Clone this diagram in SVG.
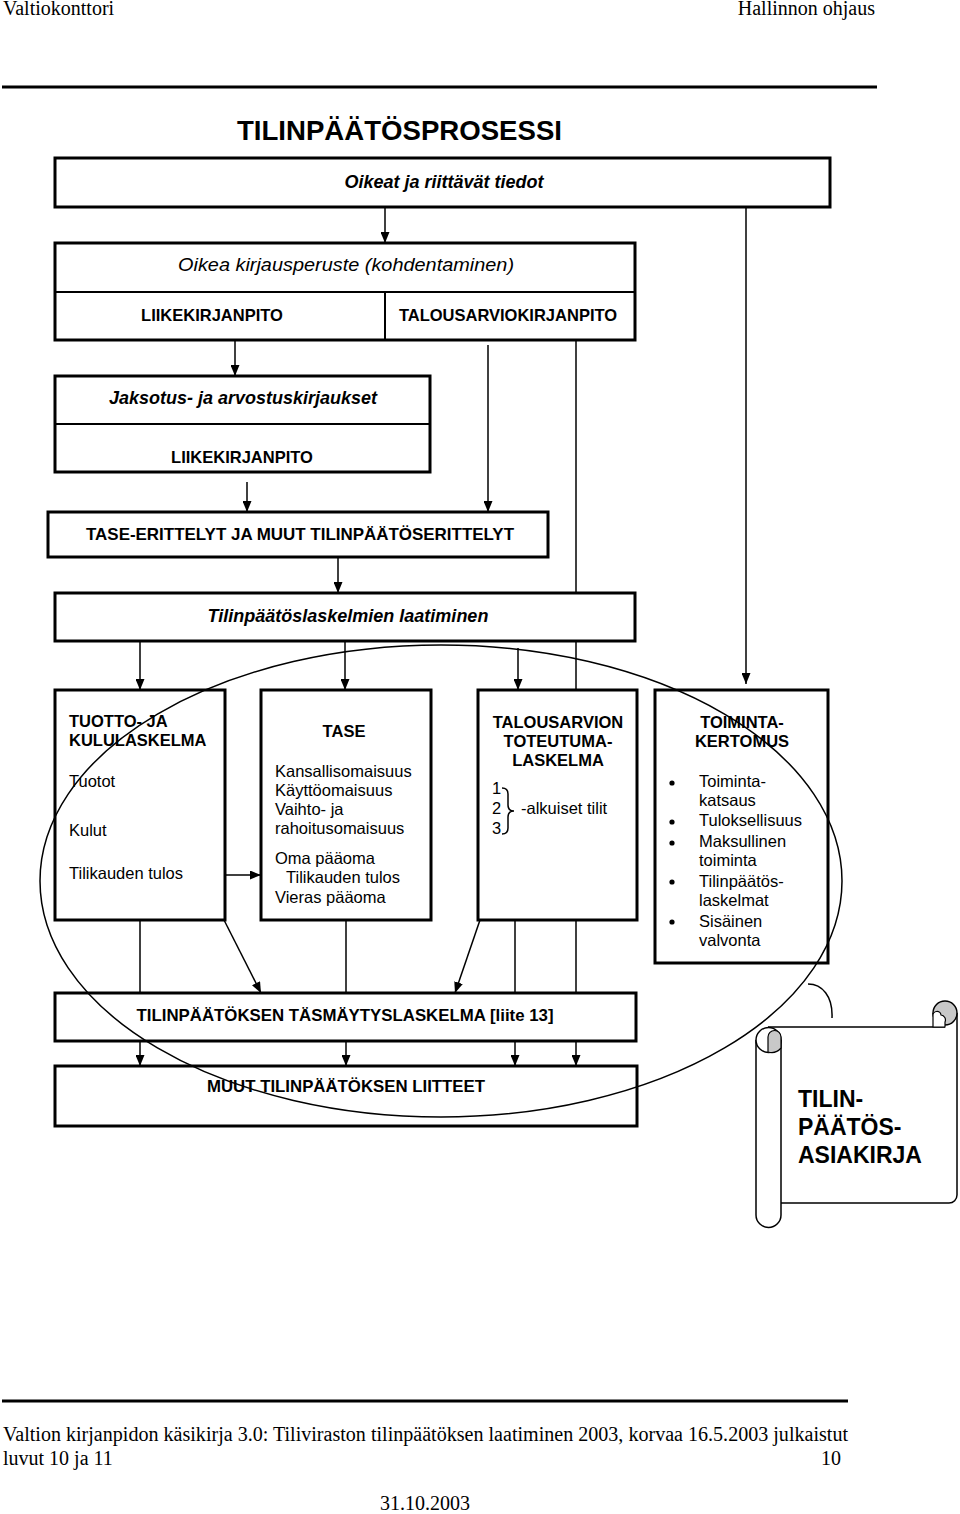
<svg xmlns="http://www.w3.org/2000/svg" width="960" height="1514" viewBox="0 0 960 1514">
<style>
.bx{fill:#fff;stroke:#000;stroke-width:3}
.dv{stroke:#000;stroke-width:2;fill:none}
.ln{stroke:#000;stroke-width:1.5;fill:none}
.ar{stroke:#000;stroke-width:1.5;fill:none;marker-end:url(#ah)}
.t{font-family:"Liberation Sans",Arial,sans-serif;font-size:16.5px;fill:#000}
.b{font-weight:bold}
.i{font-style:italic}
.m{text-anchor:middle}
.tm{font-family:"Liberation Serif","Times New Roman",serif;font-size:20px;fill:#000}
</style>
<defs>
<marker id="ah" viewBox="0 0 11 9" refX="11" refY="4.5" markerWidth="11" markerHeight="9" markerUnits="userSpaceOnUse" orient="auto"><path d="M0,0 L11,4.5 L0,9 z" fill="#000"/></marker>
</defs>
<rect width="960" height="1514" fill="#fff"/>

<g id="header">
<text class="tm" x="3" y="15">Valtiokonttori</text>
<text class="tm" x="875" y="15" text-anchor="end">Hallinnon ohjaus</text>
<line x1="2" y1="87" x2="877" y2="87" stroke="#000" stroke-width="3"/>
<text class="t b" x="237" y="140" textLength="325" lengthAdjust="spacingAndGlyphs" style="font-size:28px">TILINPÄÄTÖSPROSESSI</text>
</g>

<g id="connectors">
<line class="ar" x1="385" y1="207" x2="385" y2="243"/>
<line class="ar" x1="746" y1="207" x2="746" y2="684"/>
<line class="ar" x1="235" y1="340" x2="235" y2="376"/>
<line class="ar" x1="488" y1="345" x2="488" y2="512"/>
<line class="ln" x1="576" y1="340" x2="576" y2="690"/>
<line class="ar" x1="247" y1="482" x2="247" y2="512"/>
<line class="ar" x1="338" y1="557" x2="338" y2="593"/>
<line class="ar" x1="140" y1="641" x2="140" y2="690"/>
<line class="ar" x1="345" y1="641" x2="345" y2="690"/>
<line class="ar" x1="518" y1="648" x2="518" y2="690"/>
<line class="ar" x1="216" y1="875" x2="261" y2="875"/>
<line class="ln" x1="140" y1="920" x2="140" y2="993"/>
<line class="ar" x1="224" y1="920" x2="261" y2="993"/>
<line class="ln" x1="346" y1="920" x2="346" y2="993"/>
<line class="ar" x1="480" y1="920" x2="455" y2="993"/>
<line class="ln" x1="515" y1="920" x2="515" y2="993"/>
<line class="ln" x1="576" y1="920" x2="576" y2="993"/>
<line class="ar" x1="140" y1="1041" x2="140" y2="1066"/>
<line class="ar" x1="346" y1="1041" x2="346" y2="1066"/>
<line class="ar" x1="515" y1="1041" x2="515" y2="1066"/>
<line class="ar" x1="576" y1="1041" x2="576" y2="1066"/>
</g>

<g id="oikeat">
<rect class="bx" x="55" y="158" width="775" height="49"/>
<text class="t b i m" x="444" y="188" style="font-size:18px">Oikeat ja riittävät tiedot</text>
</g>

<g id="kirjausperuste">
<rect class="bx" x="55" y="243" width="580" height="97"/>
<line class="dv" x1="55" y1="292" x2="635" y2="292"/>
<line class="dv" x1="385" y1="292" x2="385" y2="340"/>
<text class="t i m" x="346" y="271" style="font-size:18px" textLength="336" lengthAdjust="spacingAndGlyphs">Oikea kirjausperuste (kohdentaminen)</text>
<text class="t b m" x="212" y="321">LIIKEKIRJANPITO</text>
<text class="t b m" x="508" y="321">TALOUSARVIOKIRJANPITO</text>
</g>

<g id="jaksotus">
<rect class="bx" x="55" y="376" width="375" height="96"/>
<line class="dv" x1="55" y1="424" x2="430" y2="424"/>
<text class="t b i m" x="243" y="404" style="font-size:18px">Jaksotus- ja arvostuskirjaukset</text>
<text class="t b m" x="242" y="463">LIIKEKIRJANPITO</text>
</g>

<g id="erittelyt">
<rect class="bx" x="48" y="512" width="500" height="45"/>
<text class="t b m" x="300" y="540" textLength="428" lengthAdjust="spacingAndGlyphs">TASE-ERITTELYT JA MUUT TILINPÄÄTÖSERITTELYT</text>
</g>

<g id="laatiminen">
<rect class="bx" x="55" y="593" width="580" height="48"/>
<text class="t b i m" x="348" y="622" style="font-size:18px">Tilinpäätöslaskelmien laatiminen</text>
</g>

<g id="tuotto">
<rect class="bx" x="55" y="690" width="170" height="230"/>
<text class="t b" x="69" y="727">TUOTTO- JA</text>
<text class="t b" x="69" y="746">KULULASKELMA</text>
<text class="t" x="69" y="787">Tuotot</text>
<text class="t" x="69" y="836">Kulut</text>
<text class="t" x="69" y="879">Tilikauden tulos</text>
</g>

<g id="tase">
<rect class="bx" x="261" y="690" width="170" height="230"/>
<text class="t b m" x="344" y="737">TASE</text>
<text class="t" x="275" y="777">Kansallisomaisuus</text>
<text class="t" x="275" y="796">Käyttöomaisuus</text>
<text class="t" x="275" y="815">Vaihto- ja</text>
<text class="t" x="275" y="834">rahoitusomaisuus</text>
<text class="t" x="275" y="864">Oma pääoma</text>
<text class="t" x="286" y="883">Tilikauden tulos</text>
<text class="t" x="275" y="903">Vieras pääoma</text>
</g>

<g id="toteutuma">
<rect class="bx" x="478" y="690" width="159" height="230"/>
<text class="t b m" x="558" y="728">TALOUSARVION</text>
<text class="t b m" x="558" y="747">TOTEUTUMA-</text>
<text class="t b m" x="558" y="766">LASKELMA</text>
<text class="t" x="492" y="794">1</text>
<text class="t" x="492" y="814">2</text>
<text class="t" x="492" y="834">3</text>
<path class="ln" d="M502 788 Q508 788 508 794 V805 Q508 811 514 811 Q508 811 508 817 V828 Q508 834 502 834"/>
<text class="t" x="521" y="814">-alkuiset tilit</text>
</g>

<g id="toimintakertomus">
<rect class="bx" x="655" y="690" width="173" height="273"/>
<text class="t b m" x="742" y="728">TOIMINTA-</text>
<text class="t b m" x="742" y="747">KERTOMUS</text>
<circle cx="672" cy="783" r="2.6"/>
<circle cx="672" cy="822" r="2.6"/>
<circle cx="672" cy="843" r="2.6"/>
<circle cx="672" cy="882" r="2.6"/>
<circle cx="672" cy="922" r="2.6"/>
<text class="t" x="699" y="787">Toiminta-</text>
<text class="t" x="699" y="806">katsaus</text>
<text class="t" x="699" y="826">Tuloksellisuus</text>
<text class="t" x="699" y="847">Maksullinen</text>
<text class="t" x="699" y="866">toiminta</text>
<text class="t" x="699" y="887">Tilinpäätös-</text>
<text class="t" x="699" y="906">laskelmat</text>
<text class="t" x="699" y="927">Sisäinen</text>
<text class="t" x="699" y="946">valvonta</text>
</g>

<g id="tasmaytys">
<rect class="bx" x="55" y="993" width="581" height="48"/>
<text class="t b m" x="345" y="1021" textLength="417" lengthAdjust="spacingAndGlyphs">TILINPÄÄTÖKSEN TÄSMÄYTYSLASKELMA [liite 13]</text>
</g>

<g id="liitteet">
<rect class="bx" x="55" y="1066" width="582" height="60"/>
<text class="t b m" x="346" y="1092" textLength="278" lengthAdjust="spacingAndGlyphs">MUUT TILINPÄÄTÖKSEN LIITTEET</text>
</g>

<g id="ellipse">
<ellipse cx="441" cy="881" rx="401" ry="236" fill="none" stroke="#000" stroke-width="1.5"/>
</g>

<g id="scroll">
<path d="M808 984 C822 984 833 996 832 1018" class="ln"/>
<path d="M768 1027 H948 A9 9 0 0 1 957 1036 V1195 A8 8 0 0 1 949 1203 H781 V1040 Z" fill="#fff" stroke="none"/>
<path d="M768 1027 H945 M957 1013 V1195 A8 8 0 0 1 949 1203 H781" class="ln"/>
<circle cx="945" cy="1013" r="12" fill="#c8c8c8" stroke="#000" stroke-width="1.5"/>
<path d="M933 1013 V1027 H945 V1022 A5 5 0 0 0 941 1015 A4 4 0 0 0 933 1016" fill="#fff" stroke="#000" stroke-width="1.2"/>
<path d="M756 1040 V1215 A12.5 12.5 0 0 0 781 1215 V1040" fill="#fff" stroke="#000" stroke-width="1.5"/>
<circle cx="768.5" cy="1040" r="12.5" fill="#fff" stroke="#000" stroke-width="1.5"/>
<path d="M768 1052 V1037 A6.5 6.5 0 0 1 781 1037 V1048 A12.5 12.5 0 0 1 768 1052 Z" fill="#c8c8c8" stroke="#000" stroke-width="1.2"/>
<text class="t b" x="798" y="1107" style="font-size:23px">TILIN-</text>
<text class="t b" x="798" y="1135" style="font-size:23px">PÄÄTÖS-</text>
<text class="t b" x="798" y="1163" style="font-size:23px">ASIAKIRJA</text>
</g>

<g id="footer">
<line x1="2" y1="1401" x2="848" y2="1401" stroke="#000" stroke-width="3"/>
<text class="tm" x="3" y="1441" textLength="845" lengthAdjust="spacingAndGlyphs">Valtion kirjanpidon käsikirja 3.0: Tiliviraston tilinpäätöksen laatiminen 2003, korvaa 16.5.2003 julkaistut</text>
<text class="tm" x="3" y="1465">luvut 10 ja 11</text>
<text class="tm" x="841" y="1465" text-anchor="end">10</text>
<text class="tm" x="425" y="1510" text-anchor="middle">31.10.2003</text>
</g>
</svg>
